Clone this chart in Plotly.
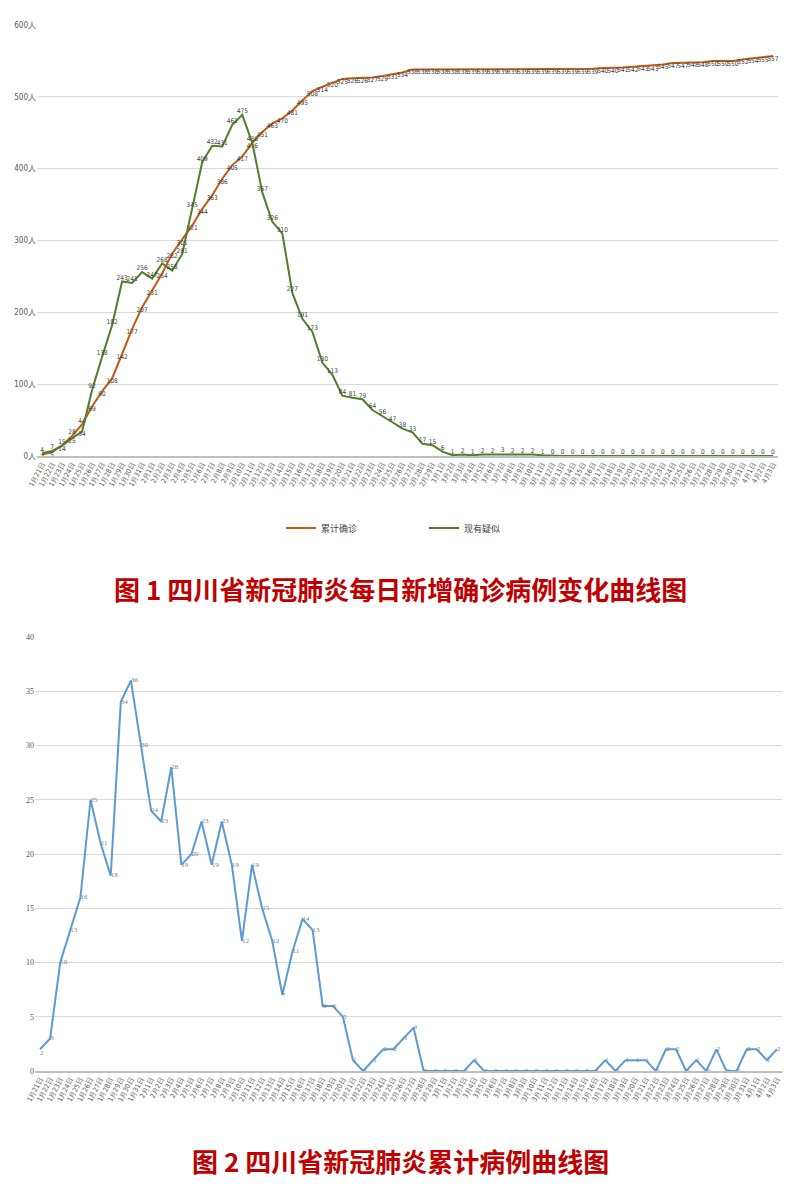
import plotly.graph_objects as go
import pandas as pd

# dates shared by both charts (1月21日 .. 4月3日)
dates = pd.date_range("2020-01-21", "2020-04-03", freq="D")
date_labels = [f"{d.month}月{d.day}日" for d in dates]

# 图1: 累计确诊 / 现有疑似
cum_confirmed = [2, 5, 15, 28, 44, 69, 90, 108, 142, 177, 207, 231, 254, 282, 301, 321,
                 344, 363, 386, 405, 417, 436, 451, 463, 470, 481, 495, 508, 514, 520,
                 525, 526, 526, 527, 529, 531, 534, 538, 538, 538, 538, 538, 538, 539,
                 539, 539, 539, 539, 539, 539, 539, 539, 539, 539, 539, 539, 540, 540,
                 541, 542, 543, 543, 545, 547, 547, 548, 548, 550, 550, 550, 552, 554,
                 555, 557]
suspected = [4, 7, 14, 25, 34, 92, 138, 182, 243, 241, 256, 247, 268, 258, 281, 345,
             409, 432, 431, 461, 475, 436, 367, 326, 310, 227, 191, 173, 130, 113,
             84, 81, 79, 64, 56, 47, 38, 33, 17, 15, 6, 1, 2, 1, 2, 2, 3, 2, 2, 2, 1,
             0, 0, 0, 0, 0, 0, 0, 0, 0, 0, 0, 0, 0, 0, 0, 0, 0, 0, 0, 0, 0, 0, 0]
y1_ticks = [0, 100, 200, 300, 400, 500, 600]

# 图2: 每日新增
daily_new = [2, 3, 10, 13, 16, 25, 21, 18, 34, 36, 30, 24, 23, 28, 19, 20, 23, 19, 23,
             19, 12, 19, 15, 12, 7, 11, 14, 13, 6, 6, 5, 1, 0, 1, 2, 2, 3, 4, 0, 0, 0,
             0, 0, 1, 0, 0, 0, 0, 0, 0, 0, 0, 0, 0, 0, 0, 1, 0, 1, 1, 1, 0, 2, 2, 0,
             1, 0, 2, 0, 0, 2, 2, 1, 2]
y2_ticks = [0, 5, 10, 15, 20, 25, 30, 35, 40]

title1 = "图 1 四川省新冠肺炎每日新增确诊病例变化曲线图"
title2 = "图 2 四川省新冠肺炎累计病例曲线图"

W, H = 800, 1188
ORANGE = "#C55A11"
GREEN = "#4F7F2B"
BLUE = "#5B9BD5"
label_font = "DejaVu Sans Condensed, Liberation Sans Narrow, Roboto, sans-serif"


def py(px):
    # pixel row -> paper y
    return 1 - px / H


n = len(date_labels)
orange_pos = ["bottom center"] * n
for i in (2, 3, 4):
    orange_pos[i] = "top center"
green_pos = ["top center"] * n
for i in (2, 3, 4):
    green_pos[i] = "bottom center"
blue_pos = ["middle right"] * n
blue_pos[0] = "bottom right"

fig = go.Figure()

fig.add_trace(go.Scatter(
    x=date_labels, y=cum_confirmed, name="累计确诊", mode="lines+text",
    text=[str(v) for v in cum_confirmed], textposition=orange_pos,
    textfont=dict(size=6.5, color="#404040", family=label_font),
    line=dict(color=ORANGE, width=2), xaxis="x", yaxis="y"))

fig.add_trace(go.Scatter(
    x=date_labels, y=suspected, name="现有疑似", mode="lines+text",
    text=[str(v) for v in suspected], textposition=green_pos,
    textfont=dict(size=6.5, color="#404040", family=label_font),
    line=dict(color=GREEN, width=2), xaxis="x", yaxis="y"))

fig.add_trace(go.Scatter(
    x=date_labels, y=daily_new, name="每日新增", mode="lines+text", showlegend=False,
    text=[str(v) for v in daily_new], textposition=blue_pos,
    textfont=dict(size=7, color="#7F7F7F", family="Liberation Serif, serif"),
    line=dict(color=BLUE, width=2), xaxis="x2", yaxis="y2"))

xaxis_common = dict(
    type="category", tickangle=-62, showgrid=False, ticks="", automargin=False,
    tickfont=dict(size=7, color="#595959", family=label_font),
    showline=True, linecolor="#BFBFBF", linewidth=1.5, zeroline=False,
    range=[-0.5, n - 0.5])
yaxis_common = dict(
    showgrid=True, gridcolor="#D9D9D9", gridwidth=1, zeroline=False,
    ticks="", automargin=False, tickmode="array",
    tickfont=dict(size=8, color="#595959", family=label_font))

fig.update_layout(
    width=W, height=H,
    paper_bgcolor="white", plot_bgcolor="white",
    margin=dict(l=0, r=0, t=0, b=0),
    font=dict(family="Noto Sans CJK SC, sans-serif"),
    xaxis=dict(xaxis_common, domain=[37 / W, 778 / W], anchor="y"),
    yaxis=dict(yaxis_common, domain=[py(456), py(25)], range=[0, 600],
               tickvals=y1_ticks, ticktext=[f"{v}人" for v in y1_ticks],
               anchor="x"),
    xaxis2=dict(xaxis_common, domain=[35 / W, 782 / W], anchor="y2"),
    yaxis2=dict(yaxis_common, domain=[py(1071), py(637)], range=[0, 40],
                tickvals=y2_ticks, ticktext=[str(v) for v in y2_ticks], anchor="x2",
                tickfont=dict(size=8, color="#595959",
                              family="Liberation Serif, serif")),
    legend=dict(orientation="h", x=0.53, y=py(528), xanchor="center",
                yanchor="middle", font=dict(size=9, color="#404040"),
                entrywidth=98, itemwidth=30),
    showlegend=True,
)

fig.add_annotation(text=title1, x=0.5, y=py(588), xref="paper", yref="paper",
                   showarrow=False, xanchor="center", yanchor="middle",
                   font=dict(size=26, color="#C00000",
                             family="Noto Sans CJK SC, sans-serif", weight="bold"))
fig.add_annotation(text=title2, x=0.5, y=py(1160), xref="paper", yref="paper",
                   showarrow=False, xanchor="center", yanchor="middle",
                   font=dict(size=26, color="#C00000",
                             family="Noto Sans CJK SC, sans-serif", weight="bold"))

# drop the browser's default page margin so the figure sits at (0, 0)
fig.write_html("out.html", config={"displayModeBar": False},
               post_script="document.body.style.margin = '0';")
